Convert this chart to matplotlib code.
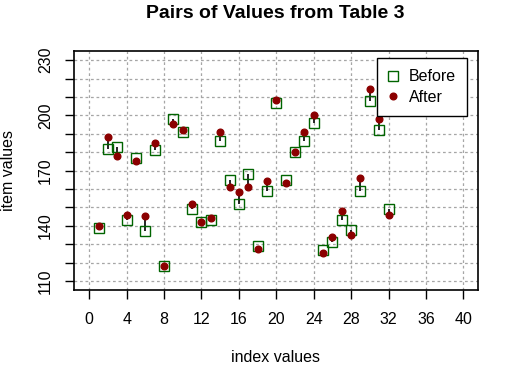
import matplotlib
matplotlib.use("Agg")
import matplotlib.pyplot as plt
import numpy as np

index = list(range(1, 33))
before = [139, 182, 183, 143, 177, 137, 181, 118, 198, 191, 149, 142, 143, 186, 165, 152,
          168, 129, 159, 207, 165, 180, 186, 196, 127, 131, 143, 138, 159, 208, 192, 149]
after = [139.8, 188, 178, 146, 175.3, 145.2, 185, 118, 195.2, 192, 151.7, 142, 144.1, 191, 161.2, 158.3,
         161.2, 127.5, 164.2, 208.6, 163.2, 180, 191, 200, 125.1, 133.8, 147.9, 134.9, 166, 214.2, 198, 146]

xticks = list(range(0, 41, 4))
yticks_major = [110, 140, 170, 200, 230]
yticks_all = list(range(110, 231, 10))

plt.rcParams['font.family'] = ['Liberation Sans', 'DejaVu Sans']

fig = plt.figure(figsize=(5.06, 3.69), dpi=100)
ax = fig.add_axes([74.3/506, 1-290/369, (478.3-74.3)/506, (290-51.3)/369])

ax.set_xlim(-1.6, 41.6)
ax.set_ylim(105.2, 234.8)

for x in xticks:
    ax.axvline(x, color='#a6a6a6', lw=0.9, ls=(0, (2.2, 2.2)), zorder=0)
for y in yticks_all:
    ax.axhline(y, color='#a6a6a6', lw=0.9, ls=(0, (2.2, 2.2)), zorder=0)

ax.vlines(index, before, after, color='black', lw=1.2, zorder=2)
ax.plot(index, before, ls='none', marker='s', markersize=7, markerfacecolor='none',
        markeredgecolor='#006400', markeredgewidth=1.0, label='Before', zorder=3)
ax.plot(index, after, ls='none', marker='o', markersize=4.8, color='#8B0000',
        label='After', zorder=4)

ax.set_xticks(xticks)
ax.set_yticks(yticks_all)
ax.set_yticklabels([str(v) if v in yticks_major else '' for v in yticks_all],
                   rotation=90, va='center')
ax.tick_params(axis='both', direction='out', length=6.5, width=1, labelsize=11.5, pad=9)
for s in ax.spines.values():
    s.set_linewidth(1.2)

fig.text(275.5/506, 1-13.5/369, 'Pairs of Values from Table 3', ha='center', va='center',
         fontsize=14, fontweight='bold')
fig.text(275.8/506, 1-357/369, 'index values', ha='center', va='center', fontsize=11.5)
fig.text(9/506, 1-170/369, 'item values', ha='center', va='center', fontsize=11.5, rotation=90)

leg = ax.legend(loc='upper right', bbox_to_anchor=((466.7-74.3)/404, (290-58.3)/238.7),
                borderaxespad=0, fancybox=False, edgecolor='black', fontsize=11.5,
                handlelength=0.6, handletextpad=0.7, labelspacing=0.36, borderpad=0.68,
                framealpha=1)
leg.get_frame().set_linewidth(1.0)

fig.savefig('out.png', dpi=100)
